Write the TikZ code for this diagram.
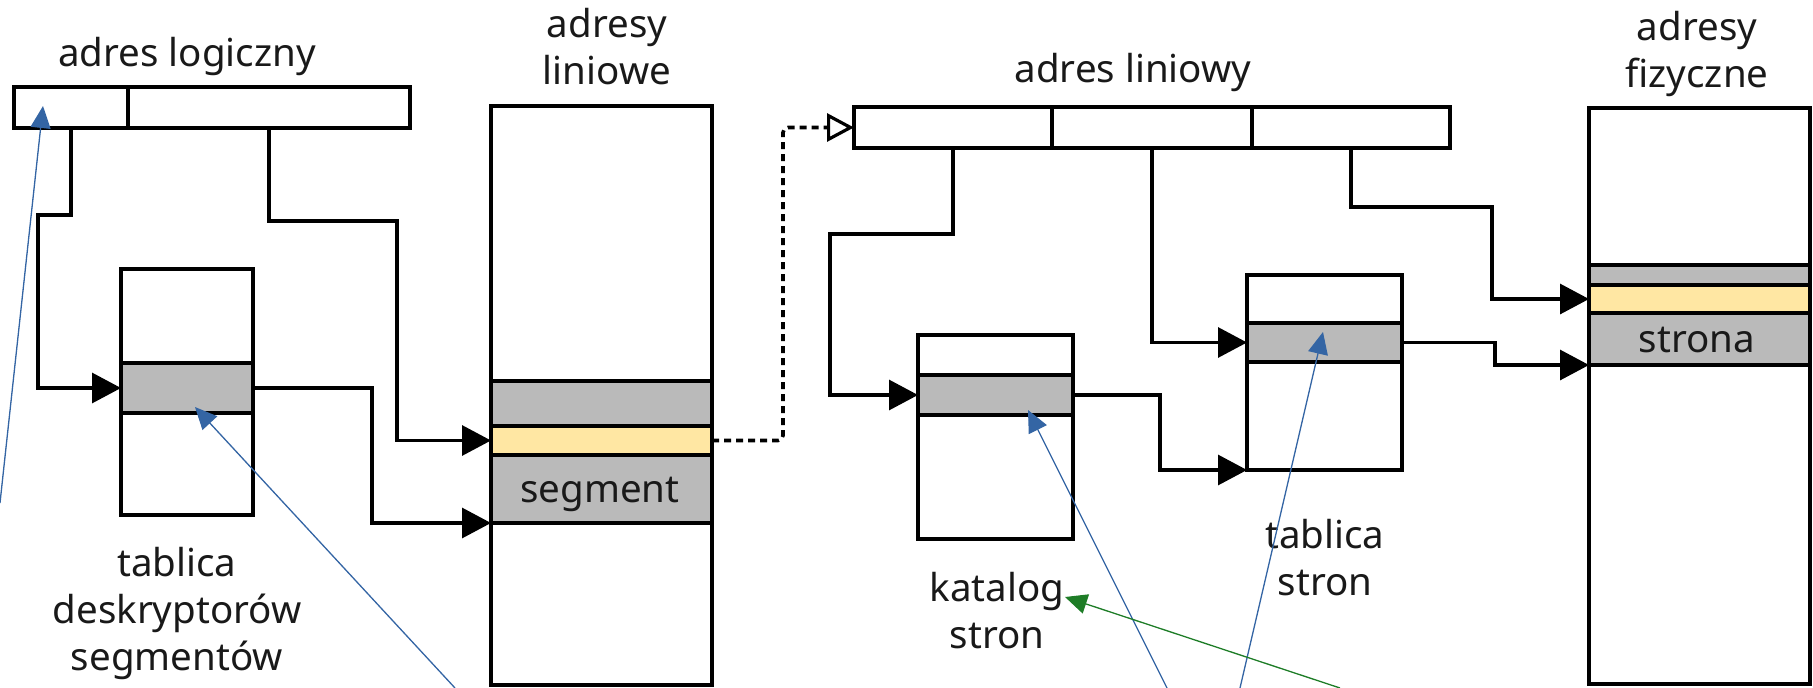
\documentclass[tikz,border=0pt]{standalone}
\usepackage{fontspec}
\setmainfont{Noto Sans}
\usetikzlibrary{arrows.meta}
\definecolor{cellgray}{HTML}{BABABA}
\definecolor{cellyellow}{HTML}{FFE7A3}
\definecolor{noteblue}{HTML}{3465A4}
\definecolor{notegreen}{HTML}{1E7D27}
\tikzset{
  box/.style={draw, line width=3.2pt, inner sep=0pt, outer sep=0pt, anchor=north west, fill=white},
  cell/.style={box, fill=cellgray},
  hot/.style={box, fill=cellyellow},
  lbl/.style={font=\fontsize{38.5}{47}\selectfont, inner sep=0pt, outer sep=0pt, text=black!90, align=center},
  conn/.style={line width=3.2pt, -{Triangle[length=29pt,width=30pt]}},
  dotconn/.style={line width=3.6pt, dash pattern=on 7pt off 5pt, rounded corners=5pt,
    -{Triangle[open, length=27pt, width=28pt, line width=3.2pt]}},
  note/.style={line width=1.3pt, draw=noteblue, -{Triangle[length=22pt,width=20pt]}, fill=noteblue},
  notegr/.style={line width=1.3pt, draw=notegreen, -{Triangle[length=22pt,width=20pt]}, fill=notegreen},
}
\begin{document}
\begin{tikzpicture}[x=1pt, y=-1pt]
\useasboundingbox (0,0) rectangle (1813,688);

% logical address (selector | offset)
\node[box, minimum width=114pt, minimum height=41pt] (la1) at (14,87) {};
\node[box, minimum width=282pt, minimum height=41pt] (la2) at (128,87) {};
\node[lbl, anchor=base] (tla) at (187,66) {adres logiczny};

% segment descriptor table
\node[box, minimum width=132pt, minimum height=246pt] (sdt) at (121,269) {};
\node[cell, minimum width=132pt, minimum height=50pt] (sdtg) at (121,363) {};
\node[lbl, anchor=base] (tsdt) at (177,670) {tablica\\deskryptorów\\segmentów};

% linear address space
\node[box, minimum width=221pt, minimum height=579pt] (lin) at (491,106) {};
\node[cell, minimum width=221pt, minimum height=142pt] (ling) at (491,381) {};
\node[hot, minimum width=221pt, minimum height=29pt] (liny) at (491,426) {};
\node[lbl, anchor=base] (tseg) at (600,502) {segment};
\node[lbl, anchor=base] (tlin) at (607,84) {adresy\\liniowe};

% linear address (directory | table | offset)
\node[box, minimum width=198pt, minimum height=41pt] (ld1) at (854,107) {};
\node[box, minimum width=200pt, minimum height=41pt] (ld2) at (1052,107) {};
\node[box, minimum width=198pt, minimum height=41pt] (ld3) at (1252,107) {};
\node[lbl, anchor=base] (tld) at (1133,82) {adres liniowy};

% page directory
\node[box, minimum width=155pt, minimum height=204pt] (kat) at (918,335) {};
\node[cell, minimum width=155pt, minimum height=40pt] (katg) at (918,375) {};
\node[lbl, anchor=base] (tkat) at (997,648) {katalog\\stron};

% page table
\node[box, minimum width=155pt, minimum height=195pt] (ts) at (1247,275) {};
\node[cell, minimum width=155pt, minimum height=39pt] (tsg) at (1247,323) {};
\node[lbl, anchor=base] (tts) at (1325,595) {tablica\\stron};

% physical address space
\node[box, minimum width=221pt, minimum height=576pt] (phys) at (1589,108) {};
\node[cell, minimum width=221pt, minimum height=100pt] (physg) at (1589,265) {};
\node[hot, minimum width=221pt, minimum height=28pt] (physy) at (1589,285) {};
\node[lbl, anchor=base] (tstr) at (1697,352) {strona};
\node[lbl, anchor=base] (tphys) at (1697,87) {adresy\\fizyczne};

% segmentation
\draw[conn] (la1.south) |- (38,215) |- (sdtg.west);
\draw[conn] (la2.south) |- (397,221) |- (liny.west);
\draw[conn] (sdtg.east) -| ([xshift=-119pt]ling.south west) -- (ling.south west);
\draw[dotconn] (liny.east) -| ([xshift=-71pt]ld1.west) -- (ld1.west);

% paging
\draw[conn] (ld1.south) |- (830,234) |- (katg.west);
\draw[conn] (ld2.south) |- (tsg.west);
\draw[conn] (ld3.south) |- (1492,207) |- (physy.west);
\draw[conn] (katg.east) -| ([xshift=-87pt]ts.south west) -- (ts.south west);
\draw[conn] (tsg.east) -| ([xshift=-94pt]physg.south west) -- (physg.south west);

% annotation arrows
\coordinate (b1s) at (0,503);    \coordinate (b1e) at (43,106);
\coordinate (b2s) at (455,688);  \coordinate (b2e) at (195,407);
\coordinate (b3s) at (1167,688); \coordinate (b3e) at (1028,410);
\coordinate (b4s) at (1240,688); \coordinate (b4e) at (1323,332);
\coordinate (g1s) at (1340,688); \coordinate (g1e) at (1065,597);
\draw[note] (b1s) -- (b1e);
\draw[note] (b2s) -- (b2e);
\draw[note] (b3s) -- (b3e);
\draw[note] (b4s) -- (b4e);
\draw[notegr] (g1s) -- (g1e);
\end{tikzpicture}
\end{document}
